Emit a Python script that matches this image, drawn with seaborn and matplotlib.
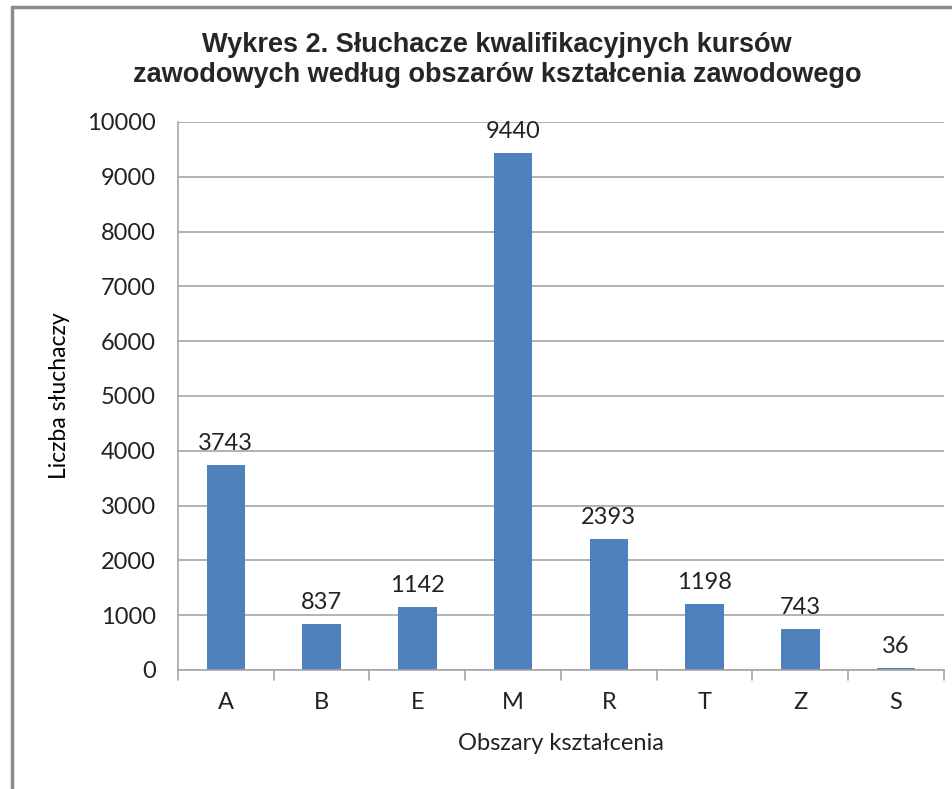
import matplotlib
matplotlib.use("Agg")
import matplotlib.pyplot as plt
import seaborn as sns
import pandas as pd
from matplotlib.lines import Line2D

categories = ["A", "B", "E", "M", "R", "T", "Z", "S"]
values = [3743, 837, 1142, 9440, 2393, 1198, 743, 36]
title = "Wykres 2. Słuchacze kwalifikacyjnych kursów\nzawodowych według obszarów kształcenia zawodowego"
xlabel = "Obszary kształcenia"
ylabel = "Liczba słuchaczy"

df = pd.DataFrame({"cat": categories, "val": values})

sns.set_style("white")
plt.rcParams["font.family"] = ["Lato", "DejaVu Sans"]

fig = plt.figure(figsize=(9.53, 7.89), dpi=100)
ax = fig.add_axes([178/953, 1-670/789, (944-178)/953, (670-122)/789])

sns.barplot(data=df, x="cat", y="val", color="#4F81BD", saturation=1,
            width=0.4, edgecolor="none", linewidth=0, ax=ax)

ax.set_ylim(0, 10000)
ax.set_xlim(-0.5, len(categories) - 0.5)
ax.set_yticks(range(0, 10001, 1000))
ax.yaxis.grid(True, color="#A6A6A6", linewidth=1.2)
ax.set_axisbelow(True)
for s in ["top", "right"]:
    ax.spines[s].set_visible(False)
for s in ["left", "bottom"]:
    ax.spines[s].set_color("#A6A6A6")
    ax.spines[s].set_linewidth(1.2)

ax.tick_params(axis="y", length=7, width=1.2, color="#A6A6A6", labelsize=17,
               labelcolor="#222222", pad=9)
ax.tick_params(axis="x", length=0, labelsize=17, labelcolor="#222222", pad=16)
# category boundary ticks
for i in range(len(categories) + 1):
    ax.plot([i - 0.5, i - 0.5], [0, -0.019], transform=ax.get_xaxis_transform(),
            color="#A6A6A6", linewidth=1.2, clip_on=False)

for i, v in enumerate(values):
    ax.annotate(str(v), (i, v), xytext=(0, 8), textcoords="offset points",
                ha="center", va="bottom", fontsize=17, color="#222222")

ax.set_xlabel(xlabel, fontsize=17, color="#222222", labelpad=14)
ax.set_ylabel(ylabel, fontsize=16.5, color="#000000", labelpad=12)

fig.text(497/953, 1-60/789, title, ha="center", va="center",
         fontsize=19.5, fontweight="bold", family=["Liberation Sans", "DejaVu Sans"],
         linespacing=1.2)

# chart frame (left and top borders visible)
fig.add_artist(Line2D([12/953, 12/953], [0, 1-7/789], transform=fig.transFigure,
                      color="#8C8C8C", linewidth=2.5))
fig.add_artist(Line2D([12/953, 1], [1-7/789, 1-7/789], transform=fig.transFigure,
                      color="#8C8C8C", linewidth=2.5))

fig.savefig("out.png", dpi=100)
